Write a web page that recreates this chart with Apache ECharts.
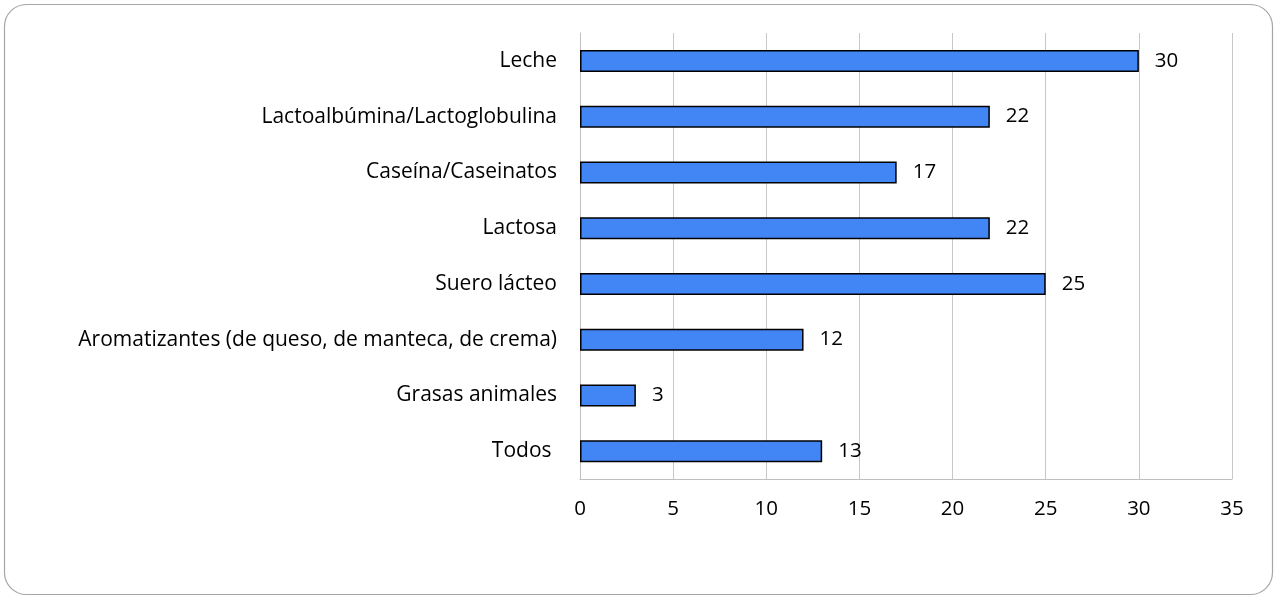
<!DOCTYPE html>
<html>
<head>
<meta charset="utf-8">
<script src="https://cdn.jsdelivr.net/npm/echarts@6/dist/echarts.min.js"></script>
<style>
html,body{margin:0;padding:0;background:#fff;}
#chart{width:1275px;height:597px;}
</style>
</head>
<body>
<div id="chart"></div>
<script>
const categories = ["Leche","Lactoalbúmina/Lactoglobulina","Caseína/Caseinatos","Lactosa","Suero lácteo","Aromatizantes (de queso, de manteca, de crema)","Grasas animales","Todos "];
const values = [30,22,17,22,25,12,3,13];

const chart = echarts.init(document.getElementById('chart'));
const font = "'Open Sans', 'Noto Sans', sans-serif";
chart.setOption({
  animation: false,
  backgroundColor: '#fff',
  graphic: [{
    type: 'rect',
    shape: {x: 4.5, y: 4.5, width: 1268, height: 590, r: 22},
    style: {fill: 'none', stroke: '#a6a6a6', lineWidth: 1.2},
    silent: true
  }],
  grid: {left: 580, right: 43, top: 33, bottom: 118, containLabel: false},
  xAxis: {
    type: 'value', min: 0, max: 35, interval: 5,
    axisLine: {show: true, lineStyle: {color: '#bfbfbf', width: 1}},
    axisTick: {show: false},
    splitLine: {show: true, lineStyle: {color: '#c8c8c8', width: 1}},
    axisLabel: {color: '#000', fontSize: 20.5, fontFamily: font, margin: 20}
  },
  yAxis: {
    type: 'category', data: categories, inverse: true,
    axisLine: {show: true, lineStyle: {color: '#bfbfbf', width: 1}},
    axisTick: {show: false},
    axisLabel: {color: '#000', fontSize: 21, fontFamily: font, margin: 23}
  },
  series: [{
    type: 'bar', data: values, barWidth: 22,
    itemStyle: {color: '#4285F4', borderColor: '#000', borderWidth: 1.5},
    label: {show: true, position: 'right', distance: 16, color: '#000', fontSize: 20.5, fontFamily: font}
  }]
});
</script>
</body>
</html>
